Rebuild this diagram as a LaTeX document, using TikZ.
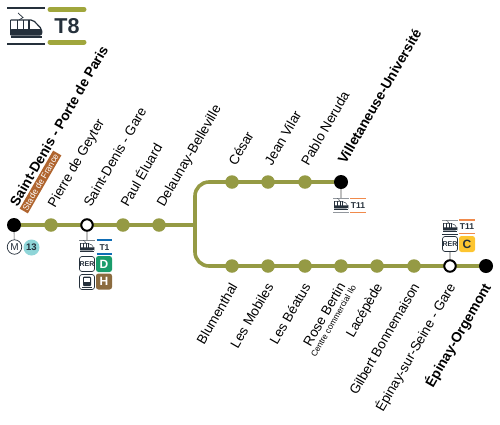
\documentclass[tikz,border=0pt]{standalone}
\usepackage{fontspec}
\setmainfont{Liberation Sans}
\definecolor{olive}{HTML}{959A44}
\definecolor{ink}{HTML}{25303B}
\definecolor{tolive}{HTML}{A0A63C}
\definecolor{tone}{HTML}{0F6DB5}
\definecolor{televen}{HTML}{F08A4B}
\definecolor{rerd}{HTML}{1A9C6B}
\definecolor{trh}{HTML}{8B6B3F}
\definecolor{rerc}{HTML}{FDC530}
\definecolor{mthirteen}{HTML}{8FD5D8}
\definecolor{stade}{HTML}{B0652F}
\newcommand\tramdraw[1]{%
  \draw[ink,line width=.6*#1] (-8,-15)--(-3,-10.5)--(-7,-8);
  \fill[ink,rounded corners=1pt] (-15.3,1) rectangle (15.7,7);
  \draw[ink,line width=#1,rounded corners=2pt] (-15.3,-8)--(7,-8)--(15.7,1)--(15.7,7)--(-15.3,7);
  \draw[ink,line width=#1] (-15.3,-8)--(-15.3,7) (-8.3,-8)--(-8.3,7) (-2.7,-8)--(-2.7,7) (3,-8)--(3,7);
  \draw[ink,line width=#1] (-15.3,9)--(15.7,9);
}
\tikzset{
 x=1pt,y=-1pt,
 linepath/.style={draw=olive,line width=3.6pt},
 stn/.style={circle,fill=olive,minimum size=13.5pt,inner sep=0pt},
 term/.style={circle,fill=black,minimum size=14pt,inner sep=0pt},
 xfer/.style={circle,fill=white,draw=black,line width=2pt,minimum size=11.5pt,inner sep=0pt},
 lab/.style={font=\fontsize{13.5}{14}\selectfont,rotate=60,inner sep=0pt},
 up/.style={lab,anchor=base west},
 dn/.style={lab,anchor=base east},
 bup/.style={up,font=\fontsize{13.9}{14}\selectfont\bfseries},
 bdn/.style={dn,font=\fontsize{13.9}{14}\selectfont\bfseries},
 link/.style={draw=black!25,line width=1.4pt},
 modebox/.style={draw=ink,rounded corners=2.5pt,line width=.7pt,fill=white,minimum width=15pt,minimum height=15pt,inner sep=0pt,font=\fontsize{7}{7}\selectfont\bfseries,text=ink},
 linebox/.style={rounded corners=2.5pt,minimum width=16pt,minimum height=16pt,inner sep=0pt,font=\fontsize{12}{12}\selectfont\bfseries},
 tlab/.style={inner sep=0pt,font=\fontsize{8.5}{9}\selectfont\bfseries,text=ink},
 tramicon/.pic={\tramdraw{.45pt}},
 bigtram/.pic={\tramdraw{1.2pt}},
}
\begin{document}
\begin{tikzpicture}
\useasboundingbox (0,0) rectangle (500,424);
% header
\draw[ink,line width=1.6pt] (7,7.7)--(45,7.7) (7,43.7)--(45,43.7);
\draw[tolive,line width=5pt,line cap=round] (50,9.5)--(84,9.5) (50,42)--(84,42);
\pic at (26,28) {bigtram};
\node[inner sep=0pt,font=\fontsize{21.5}{22}\selectfont\bfseries,text=ink] (title) at (67,26) {T8};
% named path ends
\coordinate (fork) at (195,225);
\coordinate (p1) at (14,225);
\coordinate (p2) at (341,182);
\coordinate (p3) at (486,266);
% lines
\draw[linepath] (p1)--(fork);
\draw[linepath,rounded corners=14pt] (fork)--(195,182)--(p2);
\draw[linepath,rounded corners=14pt] (fork)--(195,266)--(p3);
% connectors to services
\coordinate (m1) at (14.5,247);\coordinate (t1) at (87,240);\coordinate (t2) at (341,198);\coordinate (t3) at (450,250);
\draw[link] (p1)--(m1);
\draw[link] (87,225)--(t1);
\draw[link] (p2)--(t2);
\draw[link] (450,266)--(t3);
% stations
\node[term] (s1) at (14,225) {};
\node[stn] (s2) at (51,225) {};
\node[xfer] (s3) at (87,225) {};
\node[stn] (s4) at (123,225) {};
\node[stn] (s5) at (159,225) {};
\node[stn] (a1) at (232,182) {};
\node[stn] (a2) at (268,182) {};
\node[stn] (a3) at (305,182) {};
\node[term] (a4) at (341,182) {};
\node[stn] (b1) at (232,266) {};
\node[stn] (b2) at (268,266) {};
\node[stn] (b3) at (305,266) {};
\node[stn] (b4) at (341,266) {};
\node[stn] (b5) at (377,266) {};
\node[stn] (b6) at (414,266) {};
\node[xfer] (b7) at (450,266) {};
\node[term] (b8) at (486,266) {};
% metro
\node[circle,draw=ink,fill=white,line width=.7pt,minimum size=14.5pt,inner sep=0pt,font=\fontsize{10}{10}\selectfont,text=ink] (m) at (14.5,247) {M};
\node[circle,fill=mthirteen,minimum size=16pt,inner sep=0pt,font=\fontsize{9.5}{10}\selectfont\bfseries,text=ink] (m13) at (31.5,247.5) {13};
% S-D gare services
\draw[ink!60,line width=.9pt] (79,240)--(95,240);
\pic[scale=.45] at (87,247) {tramicon};
\draw[tone,line width=1.4pt] (96.5,240)--(112,240) (96.5,254)--(112,254);
\node[tlab] (t1l) at (104.5,247.5) {T1};
\node[modebox] (rer1) at (87,264) {RER};
\node[linebox,fill=rerd,text=white] (d) at (104,264) {D};
\node[modebox] (tr) at (87,282) {};
\fill[ink,rounded corners=1pt] (83,276.5) rectangle (91,286);
\fill[white] (84,278) rectangle (90,281.5);
\draw[ink,line width=.6pt] (82,287.5)--(92,287.5);
\node[linebox,fill=trh,text=white] (h) at (104,281.5) {H};
% Villetaneuse
\draw[ink!50,line width=.9pt] (333,198)--(349,198) (333,212.5)--(349,212.5);
\pic[scale=.45] at (341,205) {tramicon};
\draw[televen,line width=1.4pt] (350,198.5)--(366,198.5) (350,212.5)--(366,212.5);
\node[tlab] (t11a) at (358,205.5) {T11};
% Epinay
\draw[ink!50,line width=.9pt] (442,220)--(458,220);
\draw[ink,line width=.8pt] (442,234.5)--(458,234.5);
\pic[scale=.45] at (450,227) {tramicon};
\draw[televen,line width=1.4pt] (459,220)--(475,220) (459,233.5)--(475,233.5);
\node[tlab] (t11b) at (467,227) {T11};
\node[modebox] (rer2) at (450,244) {RER};
\node[linebox,fill=rerc,text=ink] (c) at (467,244) {C};
% labels top
\node[bup] (l1) at (17.5,207.5) {Saint-Denis - Porte de Paris};
\node[up] (l2) at (55,208.5) {Pierre de Geyter};
\node[up] (l3) at (91,208) {Saint-Denis - Gare};
\node[up] (l4) at (128,208) {Paul Éluard};
\node[up] (l5) at (164,208) {Delaunay-Belleville};
\node[up] (l6) at (236,166.5) {César};
\node[up] (l7) at (272,166.5) {Jean Vilar};
\node[up] (l8) at (308.5,166.5) {Pablo Neruda};
\node[bup] (l9) at (345.5,165) {Villetaneuse-Université};
\node[rotate=60,fill=stade,text=white,inner sep=0pt,minimum width=67pt,minimum height=9.5pt,font=\fontsize{8.6}{9}\selectfont] (sf) at (40.5,182) {Stade de France};
% labels bottom
\node[dn] (d1) at (238,286.5) {Blumenthal};
\node[dn] (d2) at (274,286.5) {Les Mobiles};
\node[dn] (d3) at (311,286.5) {Les Béatus};
\node[dn] (d4) at (346,286) {Rose Bertin};
\node[dn,font=\fontsize{8.4}{9}\selectfont] (d4b) at (356.5,287) {Centre commercial Ilo};
\node[dn] (d5) at (383,286.5) {Lacépède};
\node[dn] (d6) at (420,286.5) {Gilbert Bonnemaison};
\node[dn] (d7) at (456,286.5) {Épinay-sur-Seine - Gare};
\node[bdn] (d8) at (491.5,287) {Épinay-Orgemont};
\end{tikzpicture}
\end{document}
